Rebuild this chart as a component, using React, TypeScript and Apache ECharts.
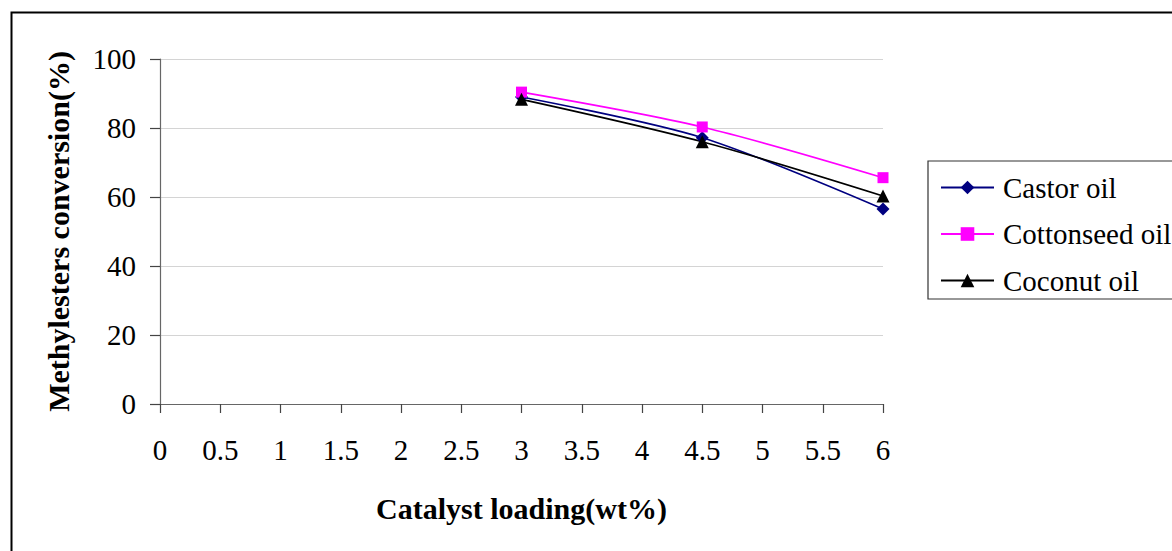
import React, { useEffect, useRef } from "react";
import * as echarts from "echarts";

// Catalyst loading (wt%) and methylester conversion (%) for each oil
const loading = [3, 4.5, 6];
const castorOil = [89, 77.2, 56.5];
const cottonseedOil = [90.4, 80.3, 65.6];
const coconutOil = [88.3, 76, 60.3];

const xTicks = { min: 0, max: 6, interval: 0.5 };
const yTicks = { min: 0, max: 100, interval: 20 };

const FONT = "'Liberation Serif', 'Times New Roman', serif";

function pairs(xs: number[], ys: number[]) {
  return xs.map((x, i) => [x, ys[i]]);
}

export default function App() {
  const ref = useRef<HTMLDivElement>(null);

  useEffect(() => {
    if (!ref.current) return;
    const chart = echarts.init(ref.current, undefined, { renderer: "svg" });

    const lineSeries = (
      name: string,
      ys: number[],
      color: string,
      symbol: string,
      size: number
    ) => ({
      name,
      type: "line",
      data: pairs(loading, ys),
      smooth: 0.3,
      symbol,
      symbolSize: size,
      showAllSymbol: true,
      lineStyle: { color, width: 1.6 },
      itemStyle: { color, borderWidth: 0 },
      emphasis: { disabled: true },
    });

    chart.setOption({
      animation: false,
      backgroundColor: "#ffffff",
      textStyle: { fontFamily: FONT, color: "#000" },
      grid: { left: 160, right: 289, top: 59, bottom: 147, containLabel: false },
      xAxis: {
        type: "value",
        min: xTicks.min,
        max: xTicks.max,
        interval: xTicks.interval,
        name: "Catalyst loading(wt%)",
        nameLocation: "middle",
        nameGap: 89,
        nameTextStyle: { fontFamily: FONT, fontSize: 30, fontWeight: "bold", color: "#000" },
        axisLine: { show: true, lineStyle: { color: "#666", width: 1.2 } },
        axisTick: { show: true, inside: false, length: 9, lineStyle: { color: "#444", width: 1.2 } },
        axisLabel: { fontFamily: FONT, fontSize: 29, color: "#000", margin: 31 },
        splitLine: { show: false },
      },
      yAxis: {
        type: "value",
        min: yTicks.min,
        max: yTicks.max,
        interval: yTicks.interval,
        name: "Methylesters conversion(%)",
        nameLocation: "middle",
        nameGap: 87,
        nameRotate: 90,
        nameTextStyle: { fontFamily: FONT, fontSize: 30, fontWeight: "bold", color: "#000" },
        axisLine: { show: true, lineStyle: { color: "#666", width: 1.2 } },
        axisTick: { show: true, inside: false, length: 10, lineStyle: { color: "#444", width: 1.2 } },
        axisLabel: { fontFamily: FONT, fontSize: 29, color: "#000", margin: 24 },
        splitLine: { show: true, lineStyle: { color: "#d4d4d4", width: 1 } },
      },
      legend: {
        orient: "vertical",
        left: 928,
        top: 161,
        padding: [12, 60, 4, 12],
        itemGap: 17.5,
        itemWidth: 53,
        itemHeight: 17,
        borderColor: "#333",
        borderWidth: 1.2,
        backgroundColor: "#fff",
        textStyle: { fontFamily: FONT, fontSize: 29, color: "#000", lineHeight: 29, padding: [0, 0, 0, 4] },
        data: ["Castor oil", "Cottonseed oil", "Coconut oil"],
      },
      graphic: [
        {
          type: "rect",
          left: 9,
          top: 10,
          shape: { x: 0, y: 0, width: 1250, height: 650 },
          style: { fill: "none", stroke: "#000", lineWidth: 2 },
          silent: true,
          z: -1,
        },
      ],
      series: [
        lineSeries("Castor oil", castorOil, "#000080", "diamond", 13),
        lineSeries("Cottonseed oil", cottonseedOil, "#ff00ff", "rect", 11),
        lineSeries("Coconut oil", coconutOil, "#000000", "triangle", 13),
      ],
    });

    return () => chart.dispose();
  }, []);

  return (
    <div
      ref={ref}
      style={{ position: "absolute", left: 0, top: 0, width: 1172, height: 551 }}
    />
  );
}
